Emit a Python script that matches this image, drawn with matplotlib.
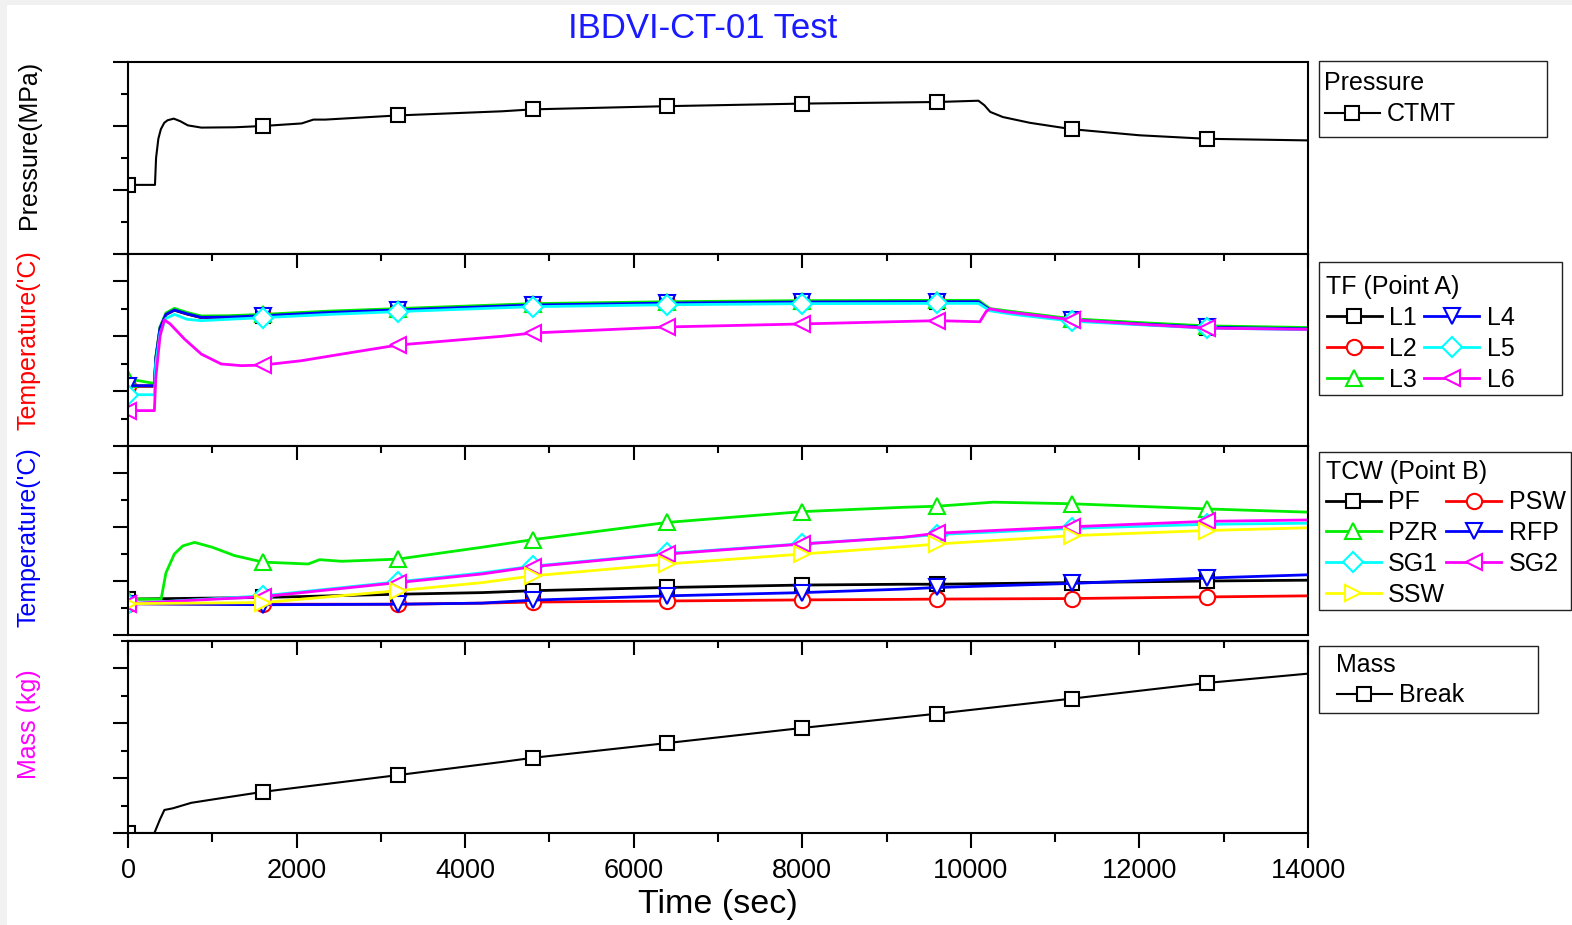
import numpy as np
import matplotlib
matplotlib.use("Agg")
import matplotlib.pyplot as plt
from matplotlib.ticker import MultipleLocator, NullFormatter
from matplotlib.patches import Rectangle

plt.rcParams['font.family'] = ['Liberation Sans', 'DejaVu Sans']

# ---------------- data (arbitrary y units) ----------------
MARK_T = np.arange(0, 14001, 1600)

t_ctmt = [0, 320, 333, 360, 390, 430, 470, 543, 620, 710, 870, 1265, 1600, 2060, 2200, 2340,
          3200, 4440, 4800, 6400, 8000, 9600, 10090, 10160, 10230, 10380, 10700, 11200, 12000,
          12800, 14000]
p_ctmt = [2.16, 2.16, 3.0, 3.6, 3.9, 4.1, 4.18, 4.23, 4.15, 4.02, 3.95, 3.96, 4.0, 4.08, 4.2, 4.2,
          4.33, 4.46, 4.52, 4.62, 4.70, 4.75, 4.79, 4.65, 4.44, 4.28, 4.10, 3.90, 3.71,
          3.60, 3.55]

t_tf = [0, 313, 330, 380, 450, 551, 700, 870, 1200, 1600, 2400, 3200, 4800, 6400, 8000, 9600,
        10090, 10226, 10500, 11200, 12000, 12800, 14000]
tf_L1 = [2.18, 2.18, 3.18, 4.28, 4.79, 4.95, 4.81, 4.68, 4.69, 4.74, 4.86, 4.95, 5.13, 5.20, 5.24,
         5.25, 5.25, 4.95, 4.84, 4.58, 4.44, 4.32, 4.26]
tf_L2 = [2.19, 2.19, 3.19, 4.29, 4.80, 4.97, 4.82, 4.69, 4.70, 4.75, 4.87, 4.96, 5.14, 5.21, 5.25,
         5.26, 5.26, 4.96, 4.85, 4.59, 4.45, 4.33, 4.27]
tf_L3 = [2.45, 2.28, 3.25, 4.35, 4.85, 5.02, 4.87, 4.74, 4.75, 4.80, 4.92, 5.01, 5.19, 5.26, 5.30,
         5.31, 5.31, 5.01, 4.90, 4.64, 4.50, 4.38, 4.32]
tf_L4 = [2.20, 2.20, 3.20, 4.30, 4.80, 4.96, 4.82, 4.69, 4.70, 4.75, 4.87, 4.96, 5.14, 5.21, 5.25,
         5.26, 5.26, 4.96, 4.85, 4.59, 4.45, 4.33, 4.27]
tf_L5 = [1.87, 1.87, 3.00, 4.10, 4.65, 4.80, 4.62, 4.57, 4.62, 4.68, 4.80, 4.90, 5.08, 5.15, 5.19,
         5.20, 5.20, 4.93, 4.80, 4.55, 4.42, 4.30, 4.24]
t_L6 = [0, 313, 330, 380, 430, 500, 670, 870, 1106, 1344, 1600, 2058, 2653, 3200, 4437, 4800, 6400,
        8000, 9600, 10107, 10180, 10226, 10400, 11200, 12000, 12800, 14000]
tf_L6 = [1.29, 1.29, 2.50, 4.00, 4.60, 4.45, 3.90, 3.35, 2.99, 2.93, 2.95, 3.11, 3.41, 3.68, 4.00,
         4.12, 4.34, 4.45, 4.57, 4.53, 4.90, 5.00, 4.90, 4.60, 4.44, 4.30, 4.25]

t_tcw = [0, 1600, 3200, 4200, 4800, 6400, 8000, 9200, 9600, 11200, 12800, 14000]
tcw_PF = [1.33, 1.39, 1.51, 1.57, 1.64, 1.76, 1.85, 1.88, 1.88, 1.94, 2.00, 2.03]
tcw_PSW = [1.16, 1.14, 1.14, 1.18, 1.22, 1.26, 1.30, 1.32, 1.33, 1.35, 1.41, 1.45]
tcw_RFP = [1.16, 1.12, 1.14, 1.18, 1.29, 1.45, 1.57, 1.70, 1.76, 1.91, 2.11, 2.23]
tcw_SG1 = [1.16, 1.45, 1.97, 2.30, 2.55, 3.02, 3.38, 3.62, 3.72, 3.95, 4.10, 4.14]
tcw_SG2 = [1.16, 1.42, 1.94, 2.26, 2.53, 3.00, 3.37, 3.62, 3.77, 4.01, 4.21, 4.26]
tcw_SSW = [1.16, 1.20, 1.64, 1.94, 2.19, 2.63, 3.00, 3.27, 3.37, 3.68, 3.87, 3.97]
t_PZR = [0, 393, 450, 550, 650, 790, 1000, 1265, 1600, 2137, 2275, 2534, 3200, 4200, 4800, 6400,
         8000, 9200, 9600, 10265, 11200, 12800, 14000]
tcw_PZR = [1.33, 1.33, 2.30, 3.00, 3.30, 3.43, 3.25, 2.94, 2.70, 2.63, 2.79, 2.73, 2.81, 3.25, 3.53,
           4.17, 4.57, 4.73, 4.77, 4.92, 4.86, 4.67, 4.55]

t_break = [0, 313, 380, 432, 532, 750, 1000, 1600, 3200, 4437, 4800, 6400, 8000, 9600, 11200,
           12800, 14000]
m_break = [0, 0, 0.5, 0.84, 0.9, 1.1, 1.22, 1.5, 2.11, 2.59, 2.74, 3.28, 3.83, 4.35, 4.9, 5.47, 5.81]

# ---------------- layout ----------------
W, H = 1572, 925
fig = plt.figure(figsize=(W / 100, H / 100), dpi=100)
fig.patch.set_facecolor('#f1f1f1')
fig.patches.append(Rectangle((7 / W, 0), 1, 1 - 5 / H, transform=fig.transFigure,
                             facecolor='white', edgecolor='none', zorder=-10))

XL, XR = 128, 1308


def rect(top, bottom):
    return [XL / W, 1 - bottom / H, (XR - XL) / W, (bottom - top) / H]


ax1 = fig.add_axes(rect(62, 254))
ax2 = fig.add_axes(rect(254, 446))
ax3 = fig.add_axes(rect(446, 635))
ax4 = fig.add_axes(rect(641, 833))
axes = [ax1, ax2, ax3, ax4]

for i, ax in enumerate(axes):
    ax.set_xlim(0, 14000)
    ax.set_ylim(0, 6 if i == 0 else 7)
    ax.xaxis.set_major_locator(MultipleLocator(2000))
    ax.xaxis.set_minor_locator(MultipleLocator(1000))
    ax.yaxis.set_major_locator(MultipleLocator(2))
    ax.yaxis.set_minor_locator(MultipleLocator(1))
    ax.yaxis.set_major_formatter(NullFormatter())
    for s in ax.spines.values():
        s.set_linewidth(1.5)
    ax.tick_params(axis='y', which='major', direction='out', length=11, width=1.5)
    ax.tick_params(axis='y', which='minor', direction='out', length=5, width=1.5)
    ax.set_facecolor('white')

ax1.tick_params(axis='x', which='both', bottom=False, top=False, labelbottom=False)
for ax in (ax2, ax3):
    ax.tick_params(axis='x', which='both', bottom=False, top=True, labelbottom=False,
                   direction='in', width=1.5)
    ax.tick_params(axis='x', which='major', length=10)
    ax.tick_params(axis='x', which='minor', length=5)
ax4.tick_params(axis='x', which='major', direction='out', length=11, width=1.5,
                labelsize=19.5, pad=7)
ax4.tick_params(axis='x', which='minor', direction='out', length=6.5, width=1.5)
sec = ax4.secondary_xaxis('top')
sec.xaxis.set_major_locator(MultipleLocator(2000))
sec.xaxis.set_minor_locator(MultipleLocator(1000))
sec.xaxis.set_major_formatter(NullFormatter())
sec.tick_params(axis='x', which='both', direction='in', width=1.5, labeltop=False)
sec.tick_params(axis='x', which='major', length=10)
sec.tick_params(axis='x', which='minor', length=5)
sec.spines['top'].set_linewidth(1.5)


def plot(ax, t, v, color, marker, label, ms=11, lw=1.5, z=2):
    t = np.asarray(t, float)
    v = np.asarray(v, float)
    idx = list(np.nonzero(np.isin(t, MARK_T))[0])
    line, = ax.plot(t, v, color=color, lw=lw, marker=marker, markevery=idx, ms=ms,
                    mfc='white', mec=color, mew=1.5, label=label, zorder=z)
    return line


# panel 1
h_ctmt = plot(ax1, t_ctmt, p_ctmt, 'black', 's', 'CTMT', ms=10)

# panel 2
h_L1 = plot(ax2, t_tf, tf_L1, 'black', 's', 'L1', ms=10, lw=2)
h_L2 = plot(ax2, t_tf, tf_L2, 'red', 'o', 'L2', lw=2)
h_L3 = plot(ax2, t_tf, tf_L3, '#00ee00', '^', 'L3', lw=2)
h_L4 = plot(ax2, t_tf, tf_L4, 'blue', 'v', 'L4', lw=2)
h_L5 = plot(ax2, t_tf, tf_L5, 'cyan', 'D', 'L5', ms=10, lw=2)
h_L6 = plot(ax2, t_L6, tf_L6, 'magenta', '<', 'L6', lw=2)

# panel 3
h_PF = plot(ax3, t_tcw, tcw_PF, 'black', 's', 'PF', ms=10, lw=2)
h_PSW = plot(ax3, t_tcw, tcw_PSW, 'red', 'o', 'PSW', lw=2)
h_PZR = plot(ax3, t_PZR, tcw_PZR, '#00ee00', '^', 'PZR', lw=2)
h_RFP = plot(ax3, t_tcw, tcw_RFP, 'blue', 'v', 'RFP', lw=2)
h_SG1 = plot(ax3, t_tcw, tcw_SG1, 'cyan', 'D', 'SG1', ms=10, lw=2)
h_SG2 = plot(ax3, t_tcw, tcw_SG2, 'magenta', '<', 'SG2', lw=2)
h_SSW = plot(ax3, t_tcw, tcw_SSW, 'yellow', '>', 'SSW', lw=2)

# panel 4
h_brk = plot(ax4, t_break, m_break, 'black', 's', 'Break', ms=10)

# ---------------- text ----------------
fig.text(703 / W, 1 - 28 / H, 'IBDVI-CT-01 Test', ha='center', va='center',
         fontsize=25, color='#1a1aff')
fig.text((XL + XR) / 2 / W, 1 - 905 / H, 'Time (sec)', ha='center', va='center', fontsize=24.5)
ylab = [('Pressure(MPa)', 'black', 145), ("Temperature('C)", 'red', 340),
        ("Temperature('C)", 'blue', 537), ('Mass (kg)', 'magenta', 724)]
for txt, col, yc in ylab:
    fig.text(29 / W, 1 - yc / H, txt, rotation=90, ha='center', va='center',
             fontsize=18, color=col)

# ---------------- legends ----------------
frames = [(1319, 61, 1547, 137), (1319, 262, 1562, 395), (1319, 452, 1571, 610),
          (1319, 646, 1538, 713)]
for x0, y0, x1, y1 in frames:
    fig.patches.append(Rectangle((x0 / W, 1 - y1 / H), (x1 - x0) / W, (y1 - y0) / H,
                                 transform=fig.transFigure, fill=False,
                                 edgecolor='#222222', linewidth=1.0, zorder=5))


def legend(handles, title, x, y, ncol=1, colsp=0.3):
    leg = fig.legend(handles, [h.get_label() for h in handles], title=title,
                     loc='upper left', bbox_to_anchor=(x / W, 1 - y / H),
                     bbox_transform=fig.transFigure, ncol=ncol, frameon=False,
                     fontsize=18, title_fontsize=18, numpoints=1, handlelength=2.2,
                     handletextpad=0.3, columnspacing=colsp, labelspacing=0.27,
                     borderpad=0.3, borderaxespad=0, alignment='left')
    return leg


legend([h_ctmt], 'Pressure', 1317, 64)
legend([h_L1, h_L2, h_L3, h_L4, h_L5, h_L6], 'TF (Point A)', 1319, 268, ncol=2)
legend([h_PF, h_PZR, h_SG1, h_SSW, h_PSW, h_RFP, h_SG2], 'TCW (Point B)', 1318, 452, ncol=2,
       colsp=0.05)
legend([h_brk], 'Mass', 1329, 645)

fig.savefig('out.png', dpi=100)
